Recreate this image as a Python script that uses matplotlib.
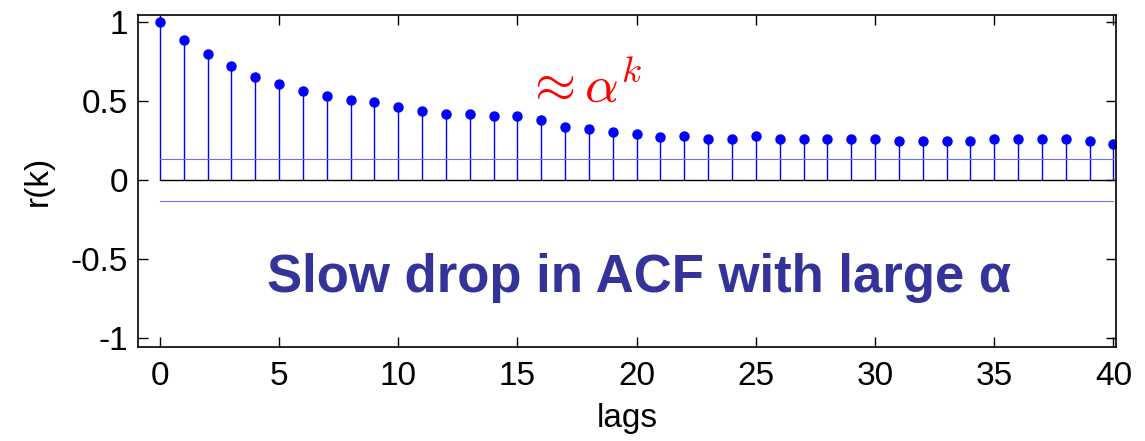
import matplotlib.pyplot as plt
import numpy as np

plt.rcParams['font.family'] = ['Liberation Sans', 'DejaVu Sans']
plt.rcParams['mathtext.fontset'] = 'cm'
plt.rcParams['axes.unicode_minus'] = False

# autocorrelation values
lags = np.arange(0, 41)
acf = [1.0, 0.884, 0.797, 0.724, 0.652, 0.608, 0.565, 0.534, 0.506, 0.492,
       0.464, 0.434, 0.42, 0.42, 0.405, 0.405, 0.378, 0.333, 0.32, 0.304,
       0.291, 0.274, 0.276, 0.262, 0.262, 0.276, 0.262, 0.262, 0.262, 0.262,
       0.262, 0.245, 0.245, 0.245, 0.245, 0.262, 0.262, 0.262, 0.262, 0.245,
       0.23]
bound = 0.13  # confidence bounds
xticks = [0, 5, 10, 15, 20, 25, 30, 35, 40]
yticks = [-1, -0.5, 0, 0.5, 1]
yticklabels = ['-1', '-0.5', '0', '0.5', '1']

fig = plt.figure(figsize=(11.45, 4.41), dpi=100)
ax = fig.add_axes([0.1205, 0.213, 0.854, 0.753])

ml, sl, bl = ax.stem(lags, acf, linefmt='b-', markerfmt='bo', basefmt='k-')
plt.setp(sl, linewidth=1)
plt.setp(ml, markersize=6.5)
plt.setp(bl, linewidth=1, color='black')

# confidence bounds, faint blue
ax.plot([lags[0], lags[-1]], [bound, bound], color='#7070ff', lw=0.8)
ax.plot([lags[0], lags[-1]], [-bound, -bound], color='#7070ff', lw=0.8)

ax.set_xlim(-0.92, 40.1)
ax.set_ylim(-1.057, 1.044)
ax.set_xticks(xticks)
ax.set_yticks(yticks)
ax.set_yticklabels(yticklabels)
ax.tick_params(direction='in', top=True, right=True, labelsize=24, length=7,
               width=1, pad=7, colors='black')
ax.tick_params(axis='x', pad=10)
for s in ax.spines.values():
    s.set_linewidth(1.2)

ax.set_xlabel('lags', fontsize=24, labelpad=8)
ax.set_ylabel('r(k)', fontsize=24, labelpad=12)

ax.text(15.3, 0.49, r'$\approx\alpha^k$', color='red', fontsize=38)
ax.text(20.1, -0.62, 'Slow drop in ACF with large \u03b1', color='#333399',
        fontsize=38, fontweight='bold', ha='center', va='center')

fig.savefig('out.png', dpi=100)
